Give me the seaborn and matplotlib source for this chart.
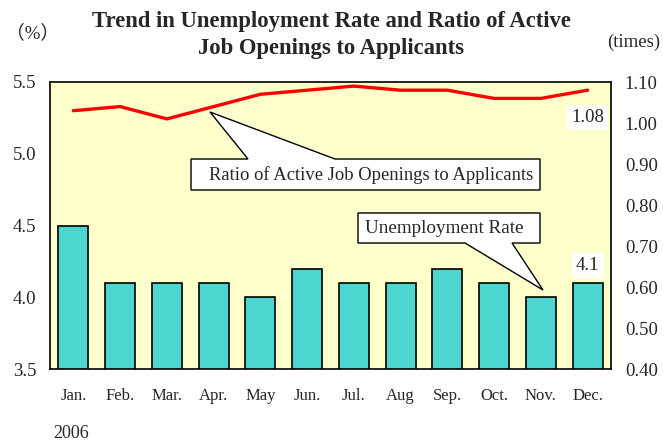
import numpy as np
import pandas as pd
import seaborn as sns
import matplotlib.pyplot as plt
from matplotlib.patches import Polygon

# dados (2006)
meses = ['Jan.', 'Feb.', 'Mar.', 'Apr.', 'May', 'Jun.', 'Jul.', 'Aug', 'Sep.', 'Oct.', 'Nov.', 'Dec.']
desemprego = [4.5, 4.1, 4.1, 4.1, 4.0, 4.2, 4.1, 4.1, 4.2, 4.1, 4.0, 4.1]
razao_vagas = [1.03, 1.04, 1.01, 1.04, 1.07, 1.08, 1.09, 1.08, 1.08, 1.06, 1.06, 1.08]
ticks_esq = [3.5, 4.0, 4.5, 5.0, 5.5]
ticks_dir = [0.40, 0.50, 0.60, 0.70, 0.80, 0.90, 1.00, 1.10]

sns.set_style('white')
plt.rcParams['font.family'] = ['Liberation Serif', 'Noto Sans CJK JP', 'DejaVu Serif']

df = pd.DataFrame({'mes': meses, 'desemprego': desemprego, 'razao': razao_vagas})
df['pos'] = range(len(df))

W, H = 663, 443
fig = plt.figure(figsize=(W / 100, H / 100), dpi=100)
L, R, T, B = 50, 611, 82, 369
ax = fig.add_axes([L / W, 1 - B / H, (R - L) / W, (B - T) / H])
ax.set_facecolor('#ffffcc')

sns.barplot(data=df, x='mes', y='desemprego', ax=ax, color='#4dd6cf', saturation=1,
            width=0.64, edgecolor='black', linewidth=1.2, zorder=2)
ax.set_ylim(ticks_esq[0], ticks_esq[-1])
ax.set_yticks(ticks_esq)
ax.set_yticklabels([f'{v:.1f}' for v in ticks_esq], fontsize=13.5)
ax.set_xlabel('')
ax.set_ylabel('')
ax.tick_params(axis='x', length=0, pad=14, labelsize=12)
ax.tick_params(axis='y', length=0, pad=10)
for s in ax.spines.values():
    s.set_color('black')
    s.set_linewidth(1.2)

ax2 = ax.twinx()
sns.lineplot(data=df, x='pos', y='razao', ax=ax2, color='#ff0000', linewidth=2.4, zorder=3)
ax2.set_ylim(ticks_dir[0], ticks_dir[-1])
ax2.set_yticks(ticks_dir)
ax2.set_yticklabels([f'{v:.2f}' for v in ticks_dir], fontsize=13.5)
ax2.set_ylabel('')
ax2.tick_params(axis='y', length=0, pad=10)
for s in ax2.spines.values():
    s.set_visible(False)
ax.set_xlim(-0.5, len(meses) - 0.5)

# rótulos dos últimos valores
ultimo = len(meses) - 1
ax.text(ultimo, desemprego[-1] + 0.06, f'{desemprego[-1]:.1f}', ha='center', va='bottom', fontsize=13.5,
        bbox=dict(facecolor='white', edgecolor='none', pad=3), zorder=5)
ax2.text(ultimo, razao_vagas[-1] - 0.045, f'{razao_vagas[-1]:.2f}', ha='center', va='top', fontsize=13.5,
         bbox=dict(facecolor='white', edgecolor='none', pad=3), zorder=5)


# balões explicativos em pixels da figura
def px(x, y):
    return ((x - L) / (R - L), (B - y) / (B - T))


balao1 = [(191, 190), (191, 159), (248, 159), (210, 112), (335, 159), (540, 159), (540, 190)]
balao2 = [(358, 213), (540, 213), (540, 243), (512, 243), (543, 290), (465, 243), (358, 243)]
for b in (balao1, balao2):
    ax2.add_patch(Polygon([px(*p) for p in b], closed=True, facecolor='white', edgecolor='black',
                          linewidth=1.0, transform=ax2.transAxes, zorder=4))
ax2.text(*px(209, 175), 'Ratio of Active Job Openings to Applicants', transform=ax2.transAxes,
         ha='left', va='center', fontsize=13.4, zorder=5)
ax2.text(*px(365, 228), 'Unemployment Rate', transform=ax2.transAxes,
         ha='left', va='center', fontsize=13.8, zorder=5)

fig.text(0.5, 1 - 35 / H, 'Trend in Unemployment Rate and Ratio of Active\nJob Openings to Applicants',
         ha='center', va='center', fontsize=16.3, fontweight='bold', linespacing=1.35)
fig.text(6 / W, 1 - 33 / H, '（%）', ha='left', va='center', fontsize=13.5)
fig.text(660 / W, 1 - 42 / H, '(times)', ha='right', va='center', fontsize=13.5)
fig.text(53 / W, 1 - 434 / H, '2006', ha='left', va='center', fontsize=13)

fig.savefig('out.png', dpi=100, facecolor='white')
